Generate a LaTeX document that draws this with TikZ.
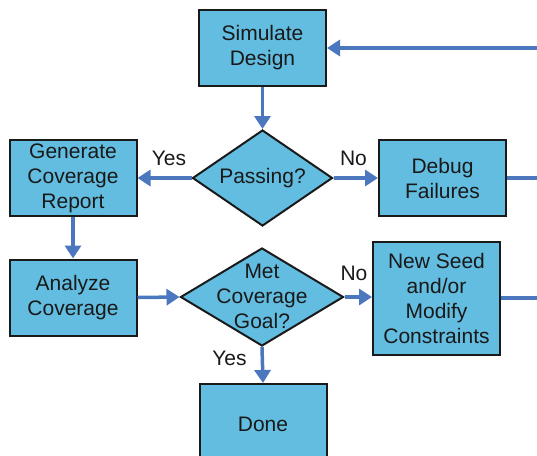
\documentclass[tikz,border=0pt]{standalone}
\usepackage{fontspec}
\setmainfont{Liberation Sans}
\usetikzlibrary{shapes.geometric,arrows.meta}
\definecolor{boxfill}{HTML}{62BDE0}
\definecolor{flow}{HTML}{4A77BE}
\definecolor{edge}{HTML}{1A1A1A}
\begin{document}
\begin{tikzpicture}[x=1pt,y=-1pt,
  every node/.style={font=\fontsize{21}{25}\selectfont, text=black!90},
  stepbox/.style={draw=edge, line width=2pt, fill=boxfill, align=center,
    minimum width=127pt, minimum height=76pt, inner sep=0pt},
  decision/.style={draw=edge, line width=2pt, fill=boxfill, diamond,
    inner sep=0pt},
  caption/.style={align=center, inner sep=0pt},
  flowline/.style={draw=flow, line width=3.5pt},
  flowarrow/.style={flowline, -{Triangle[length=13pt,width=16pt]}},
  lbl/.style={inner sep=0pt}
]
\useasboundingbox (0,0) rectangle (537,455);
\clip (0,0) rectangle (537,455);

% process boxes
\node[stepbox] (sim)   at (262.5,48)  {Simulate\\Design};
\node[stepbox] (gen)   at (73,178)    {Generate\\Coverage\\Report};
\node[stepbox] (dbg)   at (442.5,178) {Debug\\Failures};
\node[stepbox] (ana)   at (73,297.5)  {Analyze\\Coverage};
\node[stepbox, minimum height=113pt] (seed) at (436.5,298.5)
  {New Seed\\and/or\\Modify\\Constraints};
\node[stepbox, minimum height=80pt] (done) at (263,424) {Done};

% decisions
\node[decision, minimum width=140pt, minimum height=96pt] (pass) at (262.5,178) {};
\node[caption] (passtext) at (pass) {Passing?};
\node[decision, minimum width=163pt, minimum height=98pt] (goal) at (262,297) {};
\node[caption] (goaltext) at ([yshift=1pt]goal) {Met\\Coverage\\Goal?};

% loop-back ends beyond the right edge
\coordinate (loopTop) at (540,48);
\coordinate (loopMid) at (540,178);
\coordinate (loopBot) at (540,298);

% connectors
\draw[flowarrow] (sim.south) -- (pass.north);
\draw[flowarrow] (pass.west) -- (gen.east);
\draw[flowarrow] (pass.east) -- (dbg.west);
\draw[flowarrow] (gen.south) -- (ana.north);
\draw[flowarrow] (ana.east) -- (goal.west);
\draw[flowarrow] (goal.east) -- (goal.east -| seed.west);
\draw[flowarrow] (goal.south) -- (done.north);
\draw[flowline] (dbg.east) -- (loopMid);
\draw[flowline] (seed.east |- loopBot) -- (loopBot);
\draw[flowarrow] (loopTop) -- (sim.east);

% branch labels
\node[lbl] (yes1) at (169,158) {Yes};
\node[lbl] (no1)  at (353.5,158) {No};
\node[lbl] (no2)  at (354,273) {No};
\node[lbl] (yes2) at (229.5,358) {Yes};
\end{tikzpicture}
\end{document}
